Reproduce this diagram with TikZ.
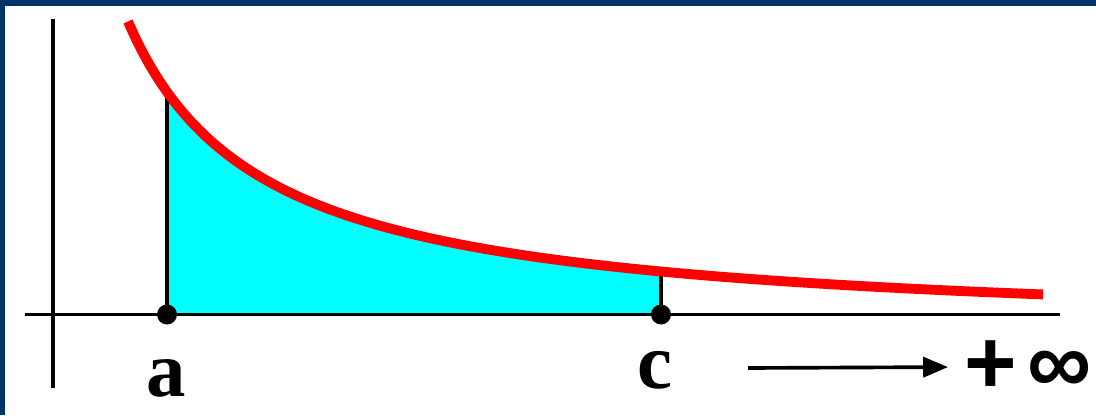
\documentclass[tikz,border=0pt]{standalone}
\usepackage{fontspec}
\setmainfont{Liberation Serif}
\newfontfamily\infont{Liberation Sans}
\usetikzlibrary{arrows.meta,positioning,calc}
\definecolor{frameblue}{RGB}{0,51,102}
\definecolor{areacyan}{RGB}{0,255,255}

\begin{document}
\begin{tikzpicture}[
  x=0.025cm, y=0.025cm,
  declare function={hyp(\t)=80.5+420.4/((\t+6.3)/100);},
  axis/.style={draw=black, line width=2.8pt},
  curve/.style={draw=red, line width=7pt},
  dot/.style={circle, fill=black, minimum size=0.5cm, inner sep=0pt},
  lbl/.style={font=\fontsize{56}{56}\selectfont\bfseries, inner sep=0pt},
  flow/.style={-{Triangle[length=0.62cm,width=0.5cm]}, line width=2.6pt}
]
  \useasboundingbox (0,0) rectangle (1096,415);
  % frame
  \fill[frameblue] (0,409) rectangle (1096,415);
  \fill[frameblue] (0,0) rectangle (5,415);

  % points on the axis
  \coordinate (a) at (167,100.5);
  \coordinate (c) at (661,100.5);
  \coordinate (fa) at (167,{hyp(167)});
  \coordinate (fc) at (661,{hyp(661)});

  % shaded area
  \fill[areacyan] (a) -- plot[domain=167:661, samples=80] (\x,{hyp(\x)}) -- (c) -- cycle;

  % axes
  \coordinate (ybot) at (53,27);
  \coordinate (ytop) at (53,396);
  \coordinate (xleft) at (25,100.5);
  \coordinate (xright) at (1060,100.5);
  \draw[axis] (ybot) -- (ytop);
  \draw[axis] (xleft) -- (xright);
  \draw[axis] (a) -- (fa);
  \draw[axis, line width=2.2pt] (c) -- (fc);

  % curve
  \draw[curve] plot[domain=128:1043, samples=120, smooth] (\x,{hyp(\x)});

  \node[dot] (dotA) at (a) {};
  \node[dot] (dotC) at (c) {};

  % labels
  \node[lbl, anchor=base] (labA) at (166,19) {a};
  \node[lbl, anchor=base] (labC) at (655,27) {c};
  \coordinate (arrstart) at (748,47);
  \node[lbl, font=\infont\fontsize{64}{64}\selectfont\bfseries, anchor=west] (inf) at (964,48) {+\hspace{0.12em}∞};
  \draw[flow, shorten >=0.4cm] (arrstart) -- (inf.west);
\end{tikzpicture}
\end{document}
